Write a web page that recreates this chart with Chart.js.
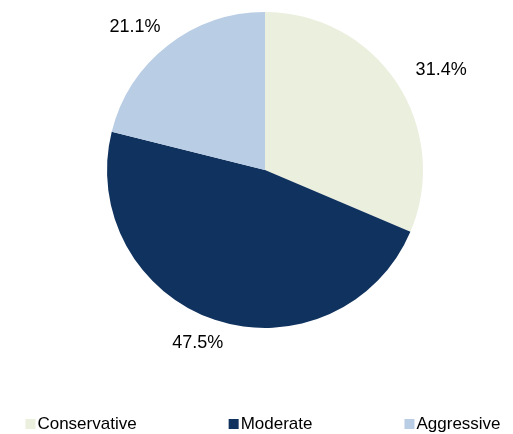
<!DOCTYPE html>
<html>
<head>
<meta charset="utf-8">
<script src="https://cdn.jsdelivr.net/npm/chart.js@4"></script>
<style>
  body { margin: 0; background: #fff; }
  canvas { display: block; }
</style>
</head>
<body>
<canvas id="chartCanvas" width="513" height="434"></canvas>
<script>
// Data
const categories = ["Conservative", "Moderate", "Aggressive"];
const shares = [31.4, 47.5, 21.1];
const sliceColors = ["#EBEFDE", "#10325E", "#B9CDE5"];

const FONT = '"Liberation Sans", Arial, sans-serif';

// Percent labels placed just outside each slice
const outsideLabels = {
  id: "outsideLabels",
  afterDatasetsDraw(chart) {
    const ctx = chart.ctx;
    const meta = chart.getDatasetMeta(0);
    ctx.save();
    ctx.font = "18px " + FONT;
    ctx.fillStyle = "#000";
    ctx.textAlign = "center";
    ctx.textBaseline = "middle";
    meta.data.forEach((arc, i) => {
      const mid = (arc.startAngle + arc.endAngle) / 2;
      const dx = Math.cos(mid), dy = Math.sin(mid);
      const r = arc.outerRadius + 20;
      const text = shares[i].toFixed(1) + "%";
      const halfW = ctx.measureText(text).width / 2;
      const x = arc.x + r * dx + halfW * dx * 1.3;
      const y = arc.y + r * dy + 4 * dy;
      ctx.fillText(text, x, y);
    });
    ctx.restore();
  }
};

// Bottom legend with wide spacing between items
const bottomLegend = {
  id: "bottomLegend",
  afterDraw(chart) {
    const ctx = chart.ctx;
    const box = 10, textGap = 2, itemGap = 92;
    ctx.save();
    ctx.font = "17px " + FONT;
    ctx.textBaseline = "alphabetic";
    const widths = categories.map(c => box + textGap + ctx.measureText(c).width);
    const total = widths.reduce((a, b) => a + b, 0) + itemGap * (categories.length - 1);
    let x = 263 - total / 2;
    const baseline = 429;
    categories.forEach((c, i) => {
      ctx.fillStyle = sliceColors[i];
      ctx.fillRect(x, baseline - box, box, box);
      ctx.fillStyle = "#000";
      ctx.fillText(c, x + box + textGap, baseline);
      x += widths[i] + itemGap;
    });
    ctx.restore();
  }
};

const ctx = document.getElementById("chartCanvas").getContext("2d");
const chart = new Chart(ctx, {
  type: "pie",
  data: {
    labels: categories,
    datasets: [{
      data: shares,
      backgroundColor: sliceColors,
      borderWidth: 0
    }]
  },
  options: {
    responsive: false,
    animation: false,
    layout: { padding: { left: 107, right: 90, top: 12, bottom: 106 } },
    plugins: {
      legend: { display: false },
      tooltip: { enabled: false }
    }
  },
  plugins: [outsideLabels, bottomLegend]
});
</script>
</body>
</html>
